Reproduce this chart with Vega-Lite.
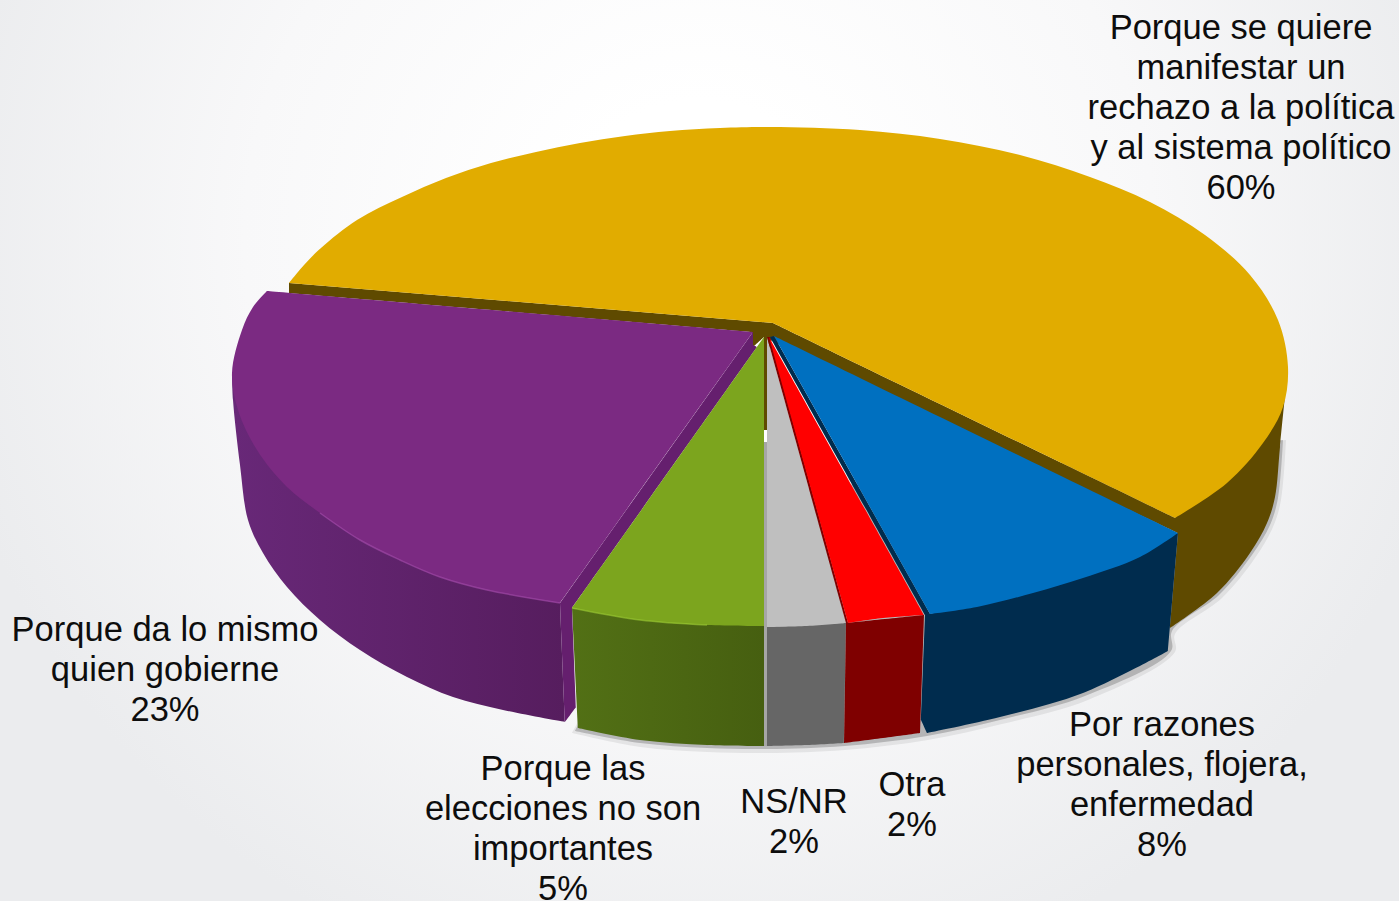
{"$schema":"https://vega.github.io/schema/vega-lite/v6.json","width":1399,"height":901,"padding":0,"autosize":{"type":"none"},
"config":{"view":{"stroke":null,"fill":{"gradient":"radial","x1":0.5,"y1":0.35,"r1":0.1,"x2":0.5,"y2":0.35,"r2":0.55,"stops":[{"offset":0,"color":"#ffffff"},{"offset":0.5,"color":"#f8f8f9"},{"offset":1,"color":"#ebecee"}]}}},
"datasets":{"formas":[
{"parte":"sombra_a","x":1286,"y":440},{"parte":"sombra_a","x":1286,"y":440},{"parte":"sombra_a","x":1281,"y":500},{"parte":"sombra_a","x":1273,"y":527},{"parte":"sombra_a","x":1255,"y":558},{"parte":"sombra_a","x":1222,"y":598},{"parte":"sombra_a","x":1175,"y":634},{"parte":"sombra_a","x":1175,"y":652},{"parte":"sombra_a","x":1088,"y":700},{"parte":"sombra_a","x":1002,"y":724},{"parte":"sombra_a","x":928,"y":740},{"parte":"sombra_a","x":845,"y":750},{"parte":"sombra_a","x":768,"y":753},{"parte":"sombra_a","x":707,"y":752},{"parte":"sombra_a","x":640,"y":747},{"parte":"sombra_a","x":572,"y":733},{"parte":"sombra_a","x":572,"y":733},{"parte":"sombra_a","x":700,"y":500},{"parte":"sombra_a","x":700,"y":500},
{"parte":"sombra_b","x":1283,"y":440},{"parte":"sombra_b","x":1283,"y":440},{"parte":"sombra_b","x":1278,"y":498},{"parte":"sombra_b","x":1270,"y":525},{"parte":"sombra_b","x":1252,"y":555},{"parte":"sombra_b","x":1219,"y":595},{"parte":"sombra_b","x":1172,"y":631},{"parte":"sombra_b","x":1171,"y":651},{"parte":"sombra_b","x":1085,"y":696},{"parte":"sombra_b","x":1000,"y":720},{"parte":"sombra_b","x":927,"y":736},{"parte":"sombra_b","x":845,"y":746},{"parte":"sombra_b","x":768,"y":749},{"parte":"sombra_b","x":707,"y":748},{"parte":"sombra_b","x":640,"y":743},{"parte":"sombra_b","x":575,"y":731},{"parte":"sombra_b","x":575,"y":731},{"parte":"sombra_b","x":700,"y":500},{"parte":"sombra_b","x":700,"y":500},
{"parte":"oro_lado","x":289,"y":283},{"parte":"oro_lado","x":289,"y":283},{"parte":"oro_lado","x":289,"y":293},{"parte":"oro_lado","x":289,"y":293},{"parte":"oro_lado","x":752,"y":332},{"parte":"oro_lado","x":752,"y":332},{"parte":"oro_lado","x":753,"y":347},{"parte":"oro_lado","x":753,"y":347},{"parte":"oro_lado","x":764,"y":337},{"parte":"oro_lado","x":764,"y":337},{"parte":"oro_lado","x":764,"y":430},{"parte":"oro_lado","x":764,"y":430},{"parte":"oro_lado","x":770,"y":430},{"parte":"oro_lado","x":770,"y":430},{"parte":"oro_lado","x":770,"y":340},{"parte":"oro_lado","x":770,"y":340},{"parte":"oro_lado","x":1178,"y":533},{"parte":"oro_lado","x":1178,"y":533},{"parte":"oro_lado","x":1170,"y":628},{"parte":"oro_lado","x":1170,"y":628},{"parte":"oro_lado","x":1217,"y":593},{"parte":"oro_lado","x":1250,"y":553},{"parte":"oro_lado","x":1267,"y":523},{"parte":"oro_lado","x":1275,"y":497},{"parte":"oro_lado","x":1280,"y":447},{"parte":"oro_lado","x":1288,"y":367},{"parte":"oro_lado","x":1288,"y":367},{"parte":"oro_lado","x":1175,"y":518},{"parte":"oro_lado","x":1175,"y":518},{"parte":"oro_lado","x":773,"y":323},{"parte":"oro_lado","x":773,"y":323},
{"parte":"oro","x":289,"y":283},{"parte":"oro","x":289,"y":283},{"parte":"oro","x":304,"y":265},{"parte":"oro","x":321,"y":248},{"parte":"oro","x":357,"y":220},{"parte":"oro","x":402,"y":197},{"parte":"oro","x":446,"y":178},{"parte":"oro","x":491,"y":163},{"parte":"oro","x":536,"y":152},{"parte":"oro","x":580,"y":143},{"parte":"oro","x":625,"y":136},{"parte":"oro","x":670,"y":131},{"parte":"oro","x":720,"y":128},{"parte":"oro","x":770,"y":127},{"parte":"oro","x":860,"y":130},{"parte":"oro","x":940,"y":139},{"parte":"oro","x":1020,"y":155},{"parte":"oro","x":1090,"y":177},{"parte":"oro","x":1150,"y":202},{"parte":"oro","x":1205,"y":235},{"parte":"oro","x":1250,"y":275},{"parte":"oro","x":1278,"y":320},{"parte":"oro","x":1288,"y":367},{"parte":"oro","x":1283,"y":407},{"parte":"oro","x":1263,"y":443},{"parte":"oro","x":1227,"y":483},{"parte":"oro","x":1175,"y":518},{"parte":"oro","x":1175,"y":518},{"parte":"oro","x":773,"y":323},{"parte":"oro","x":773,"y":323},
{"parte":"morado_lado","x":232,"y":373},{"parte":"morado_lado","x":232,"y":373},{"parte":"morado_lado","x":233,"y":400},{"parte":"morado_lado","x":240,"y":465},{"parte":"morado_lado","x":248,"y":520},{"parte":"morado_lado","x":263,"y":553},{"parte":"morado_lado","x":287,"y":587},{"parte":"morado_lado","x":320,"y":620},{"parte":"morado_lado","x":360,"y":650},{"parte":"morado_lado","x":407,"y":677},{"parte":"morado_lado","x":453,"y":697},{"parte":"morado_lado","x":503,"y":710},{"parte":"morado_lado","x":565,"y":722},{"parte":"morado_lado","x":565,"y":722},{"parte":"morado_lado","x":560,"y":603},{"parte":"morado_lado","x":560,"y":603},{"parte":"morado_lado","x":400,"y":500},{"parte":"morado_lado","x":400,"y":500},
{"parte":"morado_corte","x":753,"y":332},{"parte":"morado_corte","x":753,"y":332},{"parte":"morado_corte","x":753,"y":345},{"parte":"morado_corte","x":753,"y":345},{"parte":"morado_corte","x":757,"y":347},{"parte":"morado_corte","x":757,"y":347},{"parte":"morado_corte","x":572,"y":608},{"parte":"morado_corte","x":572,"y":608},{"parte":"morado_corte","x":576,"y":707},{"parte":"morado_corte","x":576,"y":707},{"parte":"morado_corte","x":565,"y":722},{"parte":"morado_corte","x":565,"y":722},{"parte":"morado_corte","x":560,"y":603},{"parte":"morado_corte","x":560,"y":603},
{"parte":"morado","x":267,"y":291},{"parte":"morado","x":267,"y":291},{"parte":"morado","x":753,"y":332},{"parte":"morado","x":753,"y":332},{"parte":"morado","x":560,"y":603},{"parte":"morado","x":560,"y":603},{"parte":"morado","x":487,"y":590},{"parte":"morado","x":440,"y":577},{"parte":"morado","x":400,"y":560},{"parte":"morado","x":360,"y":540},{"parte":"morado","x":320,"y":513},{"parte":"morado","x":287,"y":487},{"parte":"morado","x":257,"y":450},{"parte":"morado","x":238,"y":410},{"parte":"morado","x":232,"y":373},{"parte":"morado","x":242,"y":330},{"parte":"morado","x":253,"y":307},{"parte":"morado","x":267,"y":291},{"parte":"morado","x":267,"y":291},
{"parte":"verde_lado","x":572,"y":608},{"parte":"verde_lado","x":572,"y":608},{"parte":"verde_lado","x":578,"y":728},{"parte":"verde_lado","x":578,"y":728},{"parte":"verde_lado","x":640,"y":740},{"parte":"verde_lado","x":707,"y":745},{"parte":"verde_lado","x":764,"y":746},{"parte":"verde_lado","x":764,"y":746},{"parte":"verde_lado","x":764,"y":626},{"parte":"verde_lado","x":764,"y":626},
{"parte":"verde","x":764,"y":337},{"parte":"verde","x":764,"y":337},{"parte":"verde","x":572,"y":608},{"parte":"verde","x":572,"y":608},{"parte":"verde","x":640,"y":620},{"parte":"verde","x":707,"y":625},{"parte":"verde","x":764,"y":626},{"parte":"verde","x":764,"y":626},
{"parte":"blanco","x":764,"y":430},{"parte":"blanco","x":764,"y":430},{"parte":"blanco","x":767,"y":430},{"parte":"blanco","x":767,"y":430},{"parte":"blanco","x":767,"y":442},{"parte":"blanco","x":767,"y":442},{"parte":"blanco","x":764,"y":442},{"parte":"blanco","x":764,"y":442},
{"parte":"separador","x":764,"y":442},{"parte":"separador","x":764,"y":442},{"parte":"separador","x":767,"y":442},{"parte":"separador","x":767,"y":442},{"parte":"separador","x":767,"y":746},{"parte":"separador","x":767,"y":746},{"parte":"separador","x":764,"y":746},{"parte":"separador","x":764,"y":746},
{"parte":"gris_lado","x":767,"y":627},{"parte":"gris_lado","x":767,"y":627},{"parte":"gris_lado","x":846,"y":623},{"parte":"gris_lado","x":846,"y":623},{"parte":"gris_lado","x":844,"y":743},{"parte":"gris_lado","x":844,"y":743},{"parte":"gris_lado","x":807,"y":745},{"parte":"gris_lado","x":767,"y":746},{"parte":"gris_lado","x":767,"y":746},
{"parte":"gris","x":767,"y":337},{"parte":"gris","x":767,"y":337},{"parte":"gris","x":846,"y":623},{"parte":"gris","x":846,"y":623},{"parte":"gris","x":807,"y":626},{"parte":"gris","x":767,"y":627},{"parte":"gris","x":767,"y":627},
{"parte":"rojo_lado","x":846,"y":623},{"parte":"rojo_lado","x":846,"y":623},{"parte":"rojo_lado","x":924,"y":615},{"parte":"rojo_lado","x":924,"y":615},{"parte":"rojo_lado","x":920,"y":733},{"parte":"rojo_lado","x":920,"y":733},{"parte":"rojo_lado","x":883,"y":738},{"parte":"rojo_lado","x":844,"y":743},{"parte":"rojo_lado","x":844,"y":743},
{"parte":"rojo_corte","x":767,"y":337},{"parte":"rojo_corte","x":767,"y":337},{"parte":"rojo_corte","x":846,"y":623},{"parte":"rojo_corte","x":846,"y":623},{"parte":"rojo_corte","x":848,"y":623},{"parte":"rojo_corte","x":848,"y":623},{"parte":"rojo_corte","x":770,"y":337},{"parte":"rojo_corte","x":770,"y":337},
{"parte":"rojo","x":769,"y":337},{"parte":"rojo","x":769,"y":337},{"parte":"rojo","x":924,"y":615},{"parte":"rojo","x":924,"y":615},{"parte":"rojo","x":883,"y":618},{"parte":"rojo","x":848,"y":623},{"parte":"rojo","x":848,"y":623},
{"parte":"azul_lado","x":930,"y":614},{"parte":"azul_lado","x":930,"y":614},{"parte":"azul_lado","x":1178,"y":533},{"parte":"azul_lado","x":1178,"y":533},{"parte":"azul_lado","x":1168,"y":651},{"parte":"azul_lado","x":1168,"y":651},{"parte":"azul_lado","x":1083,"y":693},{"parte":"azul_lado","x":1000,"y":717},{"parte":"azul_lado","x":927,"y":733},{"parte":"azul_lado","x":927,"y":733},{"parte":"azul_lado","x":921,"y":720},{"parte":"azul_lado","x":921,"y":720},{"parte":"azul_lado","x":925,"y":615},{"parte":"azul_lado","x":925,"y":615},{"parte":"azul_lado","x":770,"y":337},{"parte":"azul_lado","x":770,"y":337},{"parte":"azul_lado","x":774,"y":336},{"parte":"azul_lado","x":774,"y":336},
{"parte":"azul","x":774,"y":336},{"parte":"azul","x":774,"y":336},{"parte":"azul","x":1178,"y":533},{"parte":"azul","x":1178,"y":533},{"parte":"azul","x":1140,"y":557},{"parte":"azul","x":1083,"y":578},{"parte":"azul","x":1033,"y":593},{"parte":"azul","x":977,"y":607},{"parte":"azul","x":930,"y":614},{"parte":"azul","x":930,"y":614}
],
"bordes":[
{"parte":"morado","x":560,"y":603},{"parte":"morado","x":487,"y":590},{"parte":"morado","x":440,"y":577},{"parte":"morado","x":400,"y":560},{"parte":"morado","x":360,"y":540},{"parte":"morado","x":320,"y":513},
{"parte":"verde","x":572,"y":608},{"parte":"verde","x":640,"y":620},{"parte":"verde","x":707,"y":625}
],
"etiquetas":[
{"motivo":"Porque se quiere\nmanifestar un\nrechazo a la política\ny al sistema político\n60%","valor":60,"x":1241,"y":39},
{"motivo":"Porque da lo mismo\nquien gobierne\n23%","valor":23,"x":165,"y":641},
{"motivo":"Porque las\nelecciones no son\nimportantes\n5%","valor":5,"x":563,"y":780},
{"motivo":"NS/NR\n2%","valor":2,"x":794,"y":813},
{"motivo":"Otra\n2%","valor":2,"x":912,"y":796},
{"motivo":"Por razones\npersonales, flojera,\nenfermedad\n8%","valor":8,"x":1162,"y":736}
]},
"encoding":{
"x":{"field":"x","type":"quantitative","scale":{"domain":[0,1399],"nice":false,"zero":false},"axis":null},
"y":{"field":"y","type":"quantitative","scale":{"domain":[901,0],"nice":false,"zero":false},"axis":null}
},
"layer":[
{"data":{"name":"formas"},"transform":[{"filter":{"field":"parte","oneOf":["sombra_a","sombra_b","oro_lado","oro"]}}],
"mark":{"type":"line","strokeWidth":0,"interpolate":"catmull-rom"},
"encoding":{"order":{"value":null},"fill":{"field":"parte","type":"nominal","legend":null,"scale":{"domain":["sombra_a","sombra_b","oro_lado","oro","morado_corte","morado","verde","separador","blanco","gris_lado","gris","rojo_lado","rojo_corte","rojo","azul_lado","azul"],"range":["rgba(0,0,0,0.07)","rgba(0,0,0,0.2)","#5f4a00","#e1ac00","#651f6e","#7b2a82","#7ca51e","#a6a6a6","#ffffff","#666666","#bfbfbf","#7f0000","#7f0000","#ff0000","#002c4e","#0070c0"]}}}},
{"data":{"name":"formas"},"transform":[{"filter":{"field":"parte","equal":"morado_lado"}}],
"mark":{"type":"line","strokeWidth":0,"interpolate":"catmull-rom","fill":{"gradient":"linear","x1":0,"y1":0,"x2":1,"y2":0,"stops":[{"offset":0,"color":"#682878"},{"offset":1,"color":"#561d5e"}]}},
"encoding":{"order":{"value":null}}},
{"data":{"name":"formas"},"transform":[{"filter":{"field":"parte","equal":"verde_lado"}}],
"mark":{"type":"line","strokeWidth":0,"interpolate":"catmull-rom","fill":{"gradient":"linear","x1":0,"y1":0,"x2":1,"y2":0,"stops":[{"offset":0,"color":"#527015"},{"offset":1,"color":"#465f10"}]}},
"encoding":{"order":{"value":null}}},
{"data":{"name":"formas"},"transform":[{"filter":{"field":"parte","oneOf":["morado_corte","morado","verde","blanco","separador","gris_lado","gris","rojo_lado","rojo_corte","rojo","azul_lado","azul"]}}],
"mark":{"type":"line","strokeWidth":0,"interpolate":"catmull-rom"},
"encoding":{"order":{"value":null},"fill":{"field":"parte","type":"nominal","legend":null,"scale":{"domain":["sombra_a","sombra_b","oro_lado","oro","morado_corte","morado","verde","separador","blanco","gris_lado","gris","rojo_lado","rojo_corte","rojo","azul_lado","azul"],"range":["rgba(0,0,0,0.07)","rgba(0,0,0,0.2)","#5f4a00","#e1ac00","#651f6e","#7b2a82","#7ca51e","#a6a6a6","#ffffff","#666666","#bfbfbf","#7f0000","#7f0000","#ff0000","#002c4e","#0070c0"]}}}},
{"data":{"name":"bordes"},
"mark":{"type":"line","strokeWidth":1.5,"interpolate":"catmull-rom","opacity":0.6},
"encoding":{"order":{"value":null},"detail":{"field":"parte","type":"nominal"},"stroke":{"field":"parte","type":"nominal","legend":null,"scale":{"domain":["morado","verde"],"range":["#a64fae","#9ccc35"]}}}},
{"data":{"name":"etiquetas"},
"mark":{"type":"text","font":"Liberation Sans","fontSize":34.5,"lineBreak":"\n","lineHeight":40,"align":"center","baseline":"alphabetic","color":"#0d0d0d"},
"encoding":{"text":{"field":"motivo","type":"nominal"}}}
]}
